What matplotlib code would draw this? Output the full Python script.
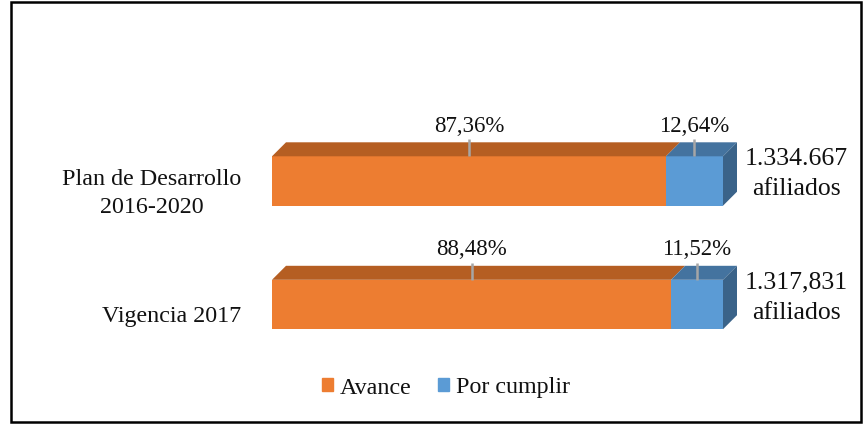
import matplotlib.pyplot as plt
from matplotlib.patches import Polygon, Rectangle, Patch

plt.rcParams['font.family'] = ['Liberation Serif', 'DejaVu Serif']

# datos
categorias = ['Plan de Desarrollo\n2016-2020', 'Vigencia 2017']
avance = [87.36, 88.48]
por_cumplir = [12.64, 11.52]
afiliados = ['1.334.667', '1.317,831']

col_av = '#ED7D31'
col_av_top = '#B55E22'
col_pc = '#5B9BD5'
col_pc_top = '#44739F'
col_pc_side = '#3A6389'
col_txt = '#111111'

W, H = 863, 425
fig = plt.figure(figsize=(W / 100, H / 100), dpi=100)
ax = fig.add_axes([272 / W, 1 - 366.25 / H, 451 / W, 247 / H])
ax.set_xlim(0, 100)
ax.set_ylim(1.5, -0.5)
ax.axis('off')

h = 0.4
dx = 14 / 4.51      # profundidad en unidades x
dy = 14 / 123.5     # profundidad en unidades y

ys = list(range(len(categorias)))
ax.barh(ys, avance, height=h, color=col_av)
ax.barh(ys, por_cumplir, left=avance, height=h, color=col_pc)


def cara_sup(x0, x1, y, c):
    yt = y - h / 2
    ax.add_patch(Polygon([(x0, yt), (x1, yt), (x1 + dx, yt - dy), (x0 + dx, yt - dy)],
                         closed=True, color=c, clip_on=False, lw=0))


for i, y in enumerate(ys):
    a, p = avance[i], por_cumplir[i]
    cara_sup(0, a, y, col_av_top)
    cara_sup(a, a + p, y, col_pc_top)
    x1 = a + p
    yt, yb = y - h / 2, y + h / 2
    ax.add_patch(Polygon([(x1, yt), (x1 + dx, yt - dy), (x1 + dx, yb - dy), (x1, yb)],
                         closed=True, color=col_pc_side, clip_on=False, lw=0))

    # etiquetas con lineas guia
    for xc, v in [(a / 2, a), (a + p / 2, p)]:
        ax.plot([xc, xc], [yt, yt - 0.14], color='#A6A6A6', lw=1.8,
                clip_on=False, solid_capstyle='butt')
        ax.text(xc, yt - 0.245, f'{v:.2f}'.replace('.', ',') + '%',
                ha='center', va='center', fontsize=16.5, color=col_txt)

    ax.text(116.3, y - 0.055, afiliados[i] + '\nafiliados', ha='center', va='center',
            fontsize=18.5, linespacing=1.45, color=col_txt)

    ax.text(-6.8, y + 0.1, categorias[i], ha='right', va='center',
            multialignment='center', fontsize=17.3, linespacing=1.4, color=col_txt)

handles = [Patch(color=col_av), Patch(color=col_pc)]
fig.legend(handles, ['Avance', 'Por cumplir'], loc='center', bbox_to_anchor=(446 / W, 1 - 388 / H),
           ncol=2, frameon=False, fontsize=17.3, handlelength=0.45, handleheight=0.45,
           handletextpad=0.3, columnspacing=1.1, labelcolor=col_txt)

# marco
fig.patches.append(Rectangle((11 / W, 3 / H), 850 / W, 420 / H, transform=fig.transFigure,
                             fill=False, edgecolor='black', lw=1.8))

fig.savefig('out.png', dpi=100)
